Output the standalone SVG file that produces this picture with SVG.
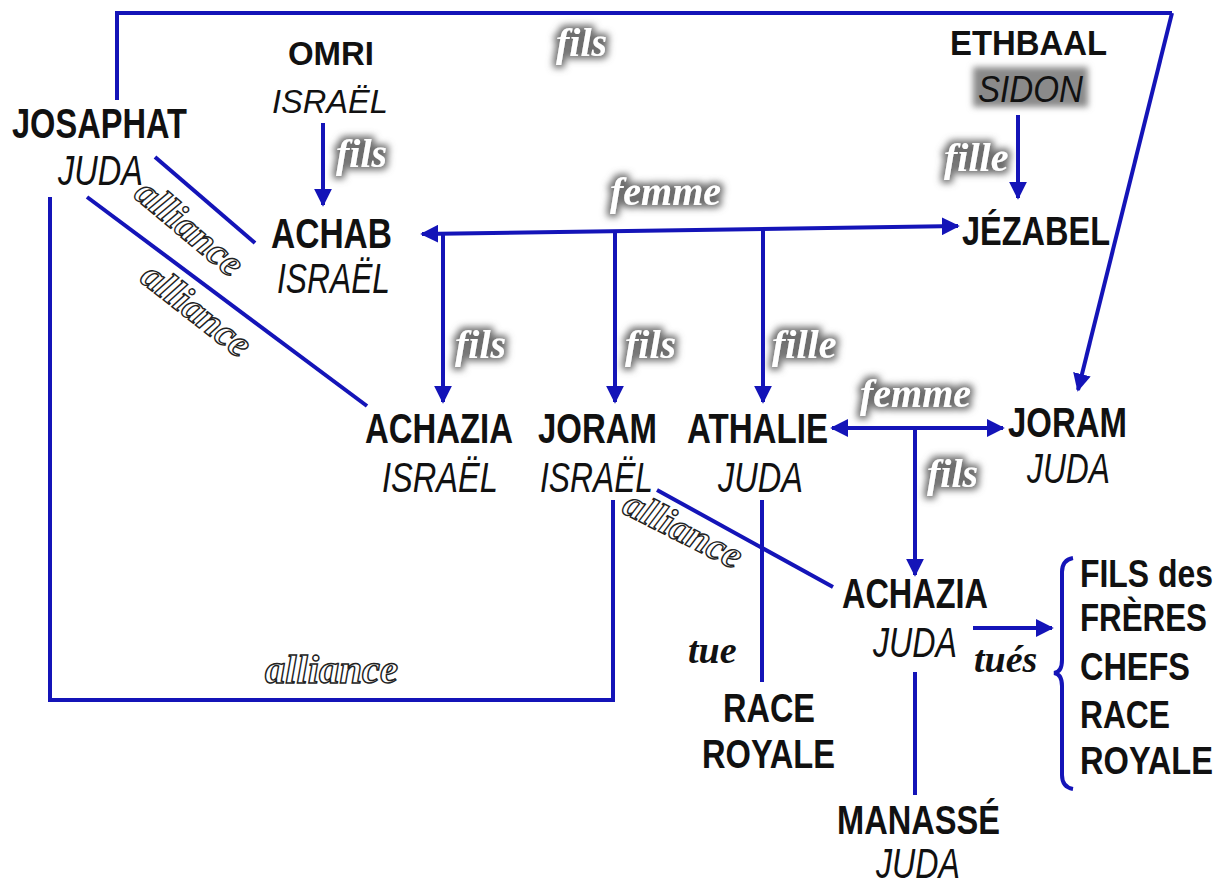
<svg xmlns="http://www.w3.org/2000/svg" width="1225" height="883" viewBox="0 0 1225 883">
<style>
.bg{fill:#ffffff}
.ln{stroke:#1414b8;stroke-width:4;fill:none;stroke-linecap:butt}
.ar{stroke:#1414b8;stroke-width:4;fill:none;marker-end:url(#ah)}
.ar2{stroke:#1414b8;stroke-width:4;fill:none;marker-end:url(#ah);marker-start:url(#ahs)}
.nm{font-family:"Liberation Sans",Arial,sans-serif;font-weight:bold;font-size:42px;fill:#111}
.rg{font-family:"Liberation Sans",Arial,sans-serif;font-style:italic;font-size:42px;fill:#111}
.rel{font-family:"Liberation Serif","Times New Roman",serif;font-weight:bold;font-style:italic;font-size:40px;fill:#ffffff;filter:url(#glow)}
.al{font-family:"Liberation Serif","Times New Roman",serif;font-weight:bold;font-style:italic;font-size:39px;fill:#ffffff;stroke:#222;stroke-width:1.4px}
.tu{font-family:"Liberation Serif","Times New Roman",serif;font-weight:bold;font-style:italic;font-size:38px;fill:#111}
</style>
<defs>
<marker id="ah" viewBox="0 0 10 10" refX="9" refY="5" markerWidth="4.5" markerHeight="4.5" orient="auto" markerUnits="strokeWidth">
<path d="M0,0 L10,5 L0,10 Z" fill="#1414b8"/>
</marker>
<marker id="ahs" viewBox="0 0 10 10" refX="1" refY="5" markerWidth="4.5" markerHeight="4.5" orient="auto" markerUnits="strokeWidth">
<path d="M10,0 L0,5 L10,10 Z" fill="#1414b8"/>
</marker>
<filter id="glow" x="-30%" y="-40%" width="160%" height="180%">
<feMorphology in="SourceAlpha" operator="dilate" radius="3" result="d"/>
<feGaussianBlur in="d" stdDeviation="3.5" result="b"/>
<feFlood flood-color="#6e6e6e"/>
<feComposite in2="b" operator="in" result="s"/>
<feMerge><feMergeNode in="s"/><feMergeNode in="SourceGraphic"/></feMerge>
</filter>
<filter id="soft" x="-20%" y="-30%" width="140%" height="160%">
<feGaussianBlur stdDeviation="3"/>
</filter>
</defs>
<rect class="bg" x="0" y="0" width="1225" height="883"/>

<g id="connectors">
<path class="ln" d="M117,100 L117,13 L1172,13"/>
<path class="ar" d="M1172,13 L1078,390"/>
<path class="ar" d="M323,123 L323,205"/>
<path class="ar" d="M1018,115 L1018,198"/>
<path class="ar2" d="M422,234 L958,226"/>
<path class="ar" d="M443,232 L443,402"/>
<path class="ar" d="M615,230 L615,402"/>
<path class="ar" d="M763,228 L763,402"/>
<path class="ar2" d="M832,428 L1003,428"/>
<path class="ar" d="M915,428 L915,575"/>
<path class="ar" d="M973,628 L1052,628"/>
<path class="ln" d="M915,672 L915,795"/>
<path class="ln" d="M762,500 L762,682"/>
<path class="ln" d="M613,500 L613,700 L50,700 L50,197"/>
<path class="ln" d="M155,157 L255,243"/>
<path class="ln" d="M87,197 L367,406"/>
<path class="ln" d="M657,490 L833,587"/>
<path class="ln" stroke-width="3.5" d="M1073,558 Q1062,560 1062,572 L1062,660 Q1062,672 1054,673 Q1062,674 1062,686 L1062,775 Q1062,787 1073,789"/>
</g>

<g id="labels">
<text class="rel" x="556" y="56">fils</text>
<text class="rel" x="336" y="167">fils</text>
<text class="rel" x="944" y="171">fille</text>
<text class="rel" x="610" y="205">femme</text>
<text class="rel" x="455" y="358">fils</text>
<text class="rel" x="625" y="358">fils</text>
<text class="rel" x="772" y="358">fille</text>
<text class="rel" x="860" y="407">femme</text>
<text class="rel" x="927" y="487">fils</text>
<text class="al" transform="translate(188 230) rotate(40)" x="0" y="10" text-anchor="middle">alliance</text>
<text class="al" transform="translate(195 312) rotate(38)" x="0" y="10" text-anchor="middle">alliance</text>
<text class="al" transform="translate(682 532) rotate(27)" x="0" y="10" text-anchor="middle">alliance</text>
<text class="al" x="265" y="683" textLength="133" lengthAdjust="spacingAndGlyphs">alliance</text>
<text class="tu" x="688" y="663">tue</text>
<text class="tu" x="974" y="672">tués</text>
</g>

<g id="josaphat">
<text class="nm" x="12" y="138" textLength="175" lengthAdjust="spacingAndGlyphs">JOSAPHAT</text>
<text class="rg" x="58" y="185" textLength="85" lengthAdjust="spacingAndGlyphs">JUDA</text>
</g>
<g id="omri">
<text class="nm" x="288" y="65" style="font-size:33px" textLength="86" lengthAdjust="spacingAndGlyphs">OMRI</text>
<text class="rg" x="272" y="113" style="font-size:33px" textLength="116" lengthAdjust="spacingAndGlyphs">ISRAËL</text>
</g>
<g id="ethbaal">
<text class="nm" x="950" y="55" style="font-size:35px" textLength="157" lengthAdjust="spacingAndGlyphs">ETHBAAL</text>
<rect x="973" y="67" width="115" height="40" fill="#8a8a8a" filter="url(#soft)"/>
<text class="rg" x="978" y="102" style="font-size:37px" textLength="105" lengthAdjust="spacingAndGlyphs">SIDON</text>
</g>
<g id="achab">
<text class="nm" x="271" y="248" textLength="121" lengthAdjust="spacingAndGlyphs">ACHAB</text>
<text class="rg" x="277" y="293" textLength="113" lengthAdjust="spacingAndGlyphs">ISRAËL</text>
</g>
<g id="jezabel">
<text class="nm" x="962" y="245" style="font-size:40px" textLength="148" lengthAdjust="spacingAndGlyphs">JÉZABEL</text>
</g>
<g id="achazia-israel">
<text class="nm" x="365" y="443" textLength="148" lengthAdjust="spacingAndGlyphs">ACHAZIA</text>
<text class="rg" x="382" y="492" textLength="116" lengthAdjust="spacingAndGlyphs">ISRAËL</text>
</g>
<g id="joram-israel">
<text class="nm" x="538" y="443" textLength="119" lengthAdjust="spacingAndGlyphs">JORAM</text>
<text class="rg" x="540" y="492" textLength="113" lengthAdjust="spacingAndGlyphs">ISRAËL</text>
</g>
<g id="athalie">
<text class="nm" x="687" y="443" textLength="141" lengthAdjust="spacingAndGlyphs">ATHALIE</text>
<text class="rg" x="718" y="492" textLength="85" lengthAdjust="spacingAndGlyphs">JUDA</text>
</g>
<g id="joram-juda">
<text class="nm" x="1008" y="437" textLength="119" lengthAdjust="spacingAndGlyphs">JORAM</text>
<text class="rg" x="1027" y="483" textLength="83" lengthAdjust="spacingAndGlyphs">JUDA</text>
</g>
<g id="achazia-juda">
<text class="nm" x="842" y="608" textLength="146" lengthAdjust="spacingAndGlyphs">ACHAZIA</text>
<text class="rg" x="873" y="657" textLength="84" lengthAdjust="spacingAndGlyphs">JUDA</text>
</g>
<g id="race-royale">
<text class="nm" x="723" y="722" style="font-size:40px" textLength="92" lengthAdjust="spacingAndGlyphs">RACE</text>
<text class="nm" x="702" y="768" style="font-size:40px" textLength="133" lengthAdjust="spacingAndGlyphs">ROYALE</text>
</g>
<g id="manasse">
<text class="nm" x="837" y="834" style="font-size:40px" textLength="163" lengthAdjust="spacingAndGlyphs">MANASSÉ</text>
<text class="rg" x="876" y="878" textLength="84" lengthAdjust="spacingAndGlyphs">JUDA</text>
</g>
<g id="victims">
<text class="nm" x="1080" y="587" style="font-size:38px" textLength="133" lengthAdjust="spacingAndGlyphs">FILS des</text>
<text class="nm" x="1080" y="631" style="font-size:38px" textLength="127" lengthAdjust="spacingAndGlyphs">FRÈRES</text>
<text class="nm" x="1080" y="680" style="font-size:38px" textLength="110" lengthAdjust="spacingAndGlyphs">CHEFS</text>
<text class="nm" x="1080" y="728" style="font-size:38px" textLength="90" lengthAdjust="spacingAndGlyphs">RACE</text>
<text class="nm" x="1080" y="774" style="font-size:38px" textLength="133" lengthAdjust="spacingAndGlyphs">ROYALE</text>
</g>
</svg>
